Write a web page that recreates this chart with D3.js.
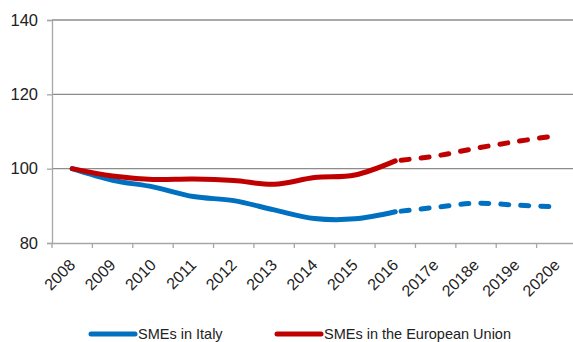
<!DOCTYPE html>
<html><head><meta charset="utf-8">
<script src="https://cdn.jsdelivr.net/npm/d3@7"></script>
<style>body{margin:0;background:#fff;}svg{display:block;}</style>
</head><body>
<script>
const categories = ["2008","2009","2010","2011","2012","2013","2014","2015","2016","2017e","2018e","2019e","2020e"];
const italy = [100, 96.9, 95.1, 92.5, 91.4, 88.9, 86.6, 86.5, 88.4, 89.6, 90.7, 90.2, 89.7];
const eu    = [100, 98.0, 97.1, 97.2, 96.8, 95.8, 97.6, 98.3, 102.1, 103.4, 105.5, 107.3, 108.9];
const yTicks = [80, 100, 120, 140];
const seriesNames = ["SMEs in Italy", "SMEs in the European Union"];
const colors = ["#0070C0", "#C00000"];
const lastActual = 8; // index of 2016

const W = 573, H = 342;
const m = {left: 52, top: 20, right: -4, bottom: 99};
const svg = d3.select("body").append("svg").attr("width", W).attr("height", H);
const x = d3.scaleBand().domain(categories).range([m.left, W - m.right]);
const y = d3.scaleLinear().domain([80, 140]).range([H - m.bottom, m.top]);
const font = "Liberation Sans, Arial, sans-serif";

// gridlines
svg.append("g").selectAll("line").data(yTicks.filter(d => d > 80)).join("line")
  .attr("x1", m.left).attr("x2", W).attr("y1", d => y(d)).attr("y2", d => y(d))
  .attr("stroke", "#8c8c8c").attr("stroke-width", 1.3);

// y axis
const ya = svg.append("g").attr("transform", `translate(${m.left},0)`)
  .call(d3.axisLeft(y).tickValues(yTicks).tickSize(5).tickPadding(9));
ya.select(".domain").attr("stroke", "#a6a6a6").attr("stroke-width", 1.3);
ya.selectAll(".tick line").attr("stroke", "#a6a6a6").attr("stroke-width", 1.3);
ya.selectAll("text").attr("font-family", font).attr("font-size", 16.5).attr("fill", "#222");

// x axis
const xa = svg.append("g").attr("transform", `translate(0,${y(80)})`)
  .call(d3.axisBottom(x).tickSize(0).tickSizeOuter(0));
xa.select(".domain").attr("stroke", "#a6a6a6").attr("stroke-width", 1.3);
xa.selectAll(".tick line").remove();
svg.append("g").selectAll("line").data(categories).join("line")
  .attr("x1", d => x(d)).attr("x2", d => x(d))
  .attr("y1", y(80)).attr("y2", y(80) + 5)
  .attr("stroke", "#a6a6a6").attr("stroke-width", 1.3);
xa.selectAll(".tick text")
  .attr("font-family", font).attr("font-size", 16).attr("fill", "#222")
  .attr("text-anchor", "end").attr("dy", 0).attr("y", 0)
  .attr("transform", `translate(4,23) rotate(-45)`);

// lines
const line = d3.line().x(d => x(d.c) + x.bandwidth()/2).y(d => y(d.v)).curve(d3.curveCatmullRom.alpha(0.5));
[italy, eu].forEach((vals, i) => {
  const pts = vals.map((v, j) => ({c: categories[j], v}));
  svg.append("path").attr("d", line(pts.slice(0, lastActual + 1)))
    .attr("fill", "none").attr("stroke", colors[i]).attr("stroke-width", 5).attr("stroke-linecap", "round");
  svg.append("path").attr("d", line(pts.slice(lastActual)))
    .attr("fill", "none").attr("stroke", colors[i]).attr("stroke-width", 5)
    .attr("stroke-linecap", "round").attr("stroke-dasharray", "8,12").attr("stroke-dashoffset", -6);
});

// legend
const legX = [91, 277];
seriesNames.forEach((n, i) => {
  svg.append("line").attr("x1", legX[i]).attr("x2", legX[i] + 44).attr("y1", 334).attr("y2", 334)
    .attr("stroke", colors[i]).attr("stroke-width", 5).attr("stroke-linecap", "round");
  svg.append("text").attr("x", legX[i] + 47).attr("y", 338.5).text(n)
    .attr("font-family", font).attr("font-size", 14.5).attr("fill", "#222");
});
</script>
</body></html>
